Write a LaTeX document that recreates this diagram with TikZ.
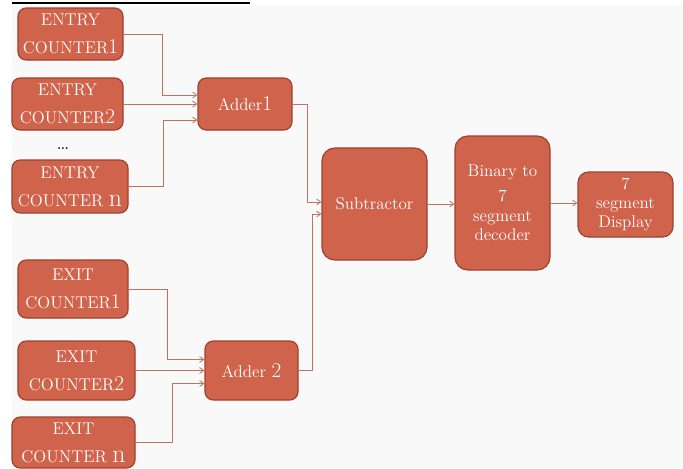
\documentclass[tikz,border=0pt]{standalone}
\usepackage{fontspec}
\usepackage{tikz}
\usetikzlibrary{arrows.meta,calc}
\definecolor{boxfill}{HTML}{D0634B}
\definecolor{boxline}{HTML}{9E412F}
\definecolor{wirecol}{HTML}{C07262}
\definecolor{backcol}{HTML}{F9F9F9}
\newcommand{\bignum}[1]{{\fontsize{18}{18}\selectfont #1}}
\newcommand{\bigletter}[1]{{\fontsize{22}{22}\selectfont #1}}

\begin{document}
\begin{tikzpicture}
		[x=0.03cm, y=-0.03cm,
		main/.style = {draw=boxline, fill=boxfill, line width=1pt, rounded corners=7pt, text=white, align=center, inner sep=0pt, font=\fontsize{14.5}{24}\selectfont},
		wire/.style = {draw=wirecol, line width=0.7pt, -{Straight Barb[length=3.5pt,width=5pt]}}]
	\useasboundingbox (0,0) rectangle (683,468);
	\fill[backcol] (12,6) rectangle (683,468);
	\draw[line width=1.3pt] (12,3) -- (250,3);
	% entry side
	\node[main, minimum width=3.15cm, minimum height=1.56cm] (ec1) at (70.5,34) {ENTRY\\COUNTER\bignum{1}};
	\node[main, minimum width=3.33cm, minimum height=1.56cm] (ec2) at (67.5,104) {ENTRY\\COUNTER\bignum{2}};
	\node[font=\bfseries] (dots) at (63,149) {...};
	\node[main, minimum width=3.48cm, minimum height=1.59cm] (ecn) at (70,186.5) {ENTRY\\COUNTER \bigletter{n}};
	\node[main, minimum width=2.82cm, minimum height=1.56cm] (adder1) at (245,104) {Adder\bignum{1}};
	% exit side
	\node[main, minimum width=3.30cm, minimum height=1.74cm] (xc1) at (73,289) {EXIT\\COUNTER\bignum{1}};
	\node[main, minimum width=3.51cm, minimum height=1.77cm] (xc2) at (76.5,370.5) {EXIT\\COUNTER\bignum{2}};
	\node[main, minimum width=3.69cm, minimum height=1.53cm] (xcn) at (73.5,442.5) {EXIT\\COUNTER \bigletter{n}};
	\node[main, minimum width=2.79cm, minimum height=1.77cm] (adder2) at (251.5,370.5) {Adder \bignum{2}};
	% output chain
	\node[main, minimum width=3.15cm, minimum height=3.36cm, rounded corners=11pt] (sub) at (374.5,204) {Subtractor};
	\node[main, minimum width=2.85cm, minimum height=4.02cm, rounded corners=11pt, font=\fontsize{14.5}{17}\selectfont] (bin) at (502.5,203) {Binary to\\[4pt]7\\segment\\decoder};
	\node[main, minimum width=2.85cm, minimum height=1.95cm, rounded corners=9pt, font=\fontsize{14.5}{16}\selectfont] (disp) at (625.5,204.5) {7\\segment\\Display};
	\draw[wire] (ec1.east) -- ++(39,0) |- ($(adder1.west)+(0,-9)$);
	\draw[wire] (ec2.east) -- (adder1.west);
	\draw[wire] (ecn.east) -- ++(35,0) |- ($(adder1.west)+(0,16)$);
	\draw[wire] (xc1.east) -- ++(39,0) |- ($(adder2.west)+(0,-11)$);
	\draw[wire] (xc2.east) -- (adder2.west);
	\draw[wire] (xcn.east) -- ++(37,0) |- ($(adder2.west)+(0,13)$);
	\draw[wire] (adder1.east) -- ++(15,0) |- ($(sub.west)+(0,-2)$);
	\draw[wire] (adder2.east) -- ++(14,0) |- ($(sub.west)+(0,10)$);
	\draw[wire] (sub.east) -- (sub.east -| bin.west);
	\draw[wire] (bin.east) -- (bin.east -| disp.west);
\end{tikzpicture}
\end{document}
